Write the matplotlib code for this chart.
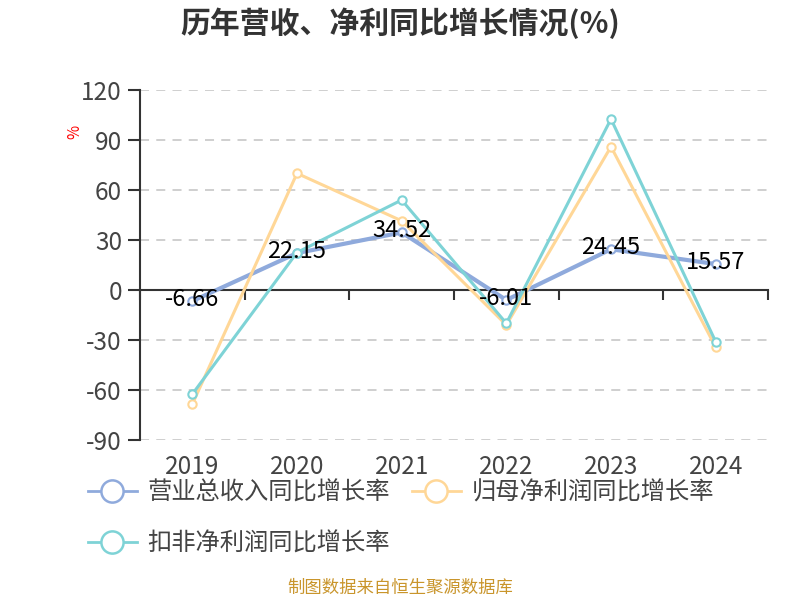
import matplotlib
matplotlib.use("Agg")
import matplotlib.pyplot as plt
from matplotlib.lines import Line2D
import matplotlib.transforms as mtransforms

plt.rcParams['font.family'] = ['Noto Sans CJK SC', 'DejaVu Sans']

years = ['2019', '2020', '2021', '2022', '2023', '2024']
revenue_growth = [-6.66, 22.15, 34.52, -6.01, 24.45, 15.57]
netprofit_growth = [-68.5, 70.0, 41.5, -21.0, 86.0, -34.3]
deducted_growth = [-62.5, 22.5, 54.0, -20.0, 102.6, -31.0]
series_names = ['营业总收入同比增长率', '归母净利润同比增长率', '扣非净利润同比增长率']
colors = ['#8FAADC', '#FFD797', '#7ED3D6']
yticks = [-90, -60, -30, 0, 30, 60, 90, 120]

fig = plt.figure(figsize=(8, 6), dpi=100)
ax = fig.add_axes([140/800, 1-440/600, 628/800, 350/600])

x = list(range(len(years)))
series = [revenue_growth, netprofit_growth, deducted_growth]
lws = [3.0, 2.2, 2.2]
for i, (vals, c) in enumerate(zip(series, colors)):
    ax.plot(x, vals, color=c, lw=lws[i], marker='o', markersize=6,
            markerfacecolor='white', markeredgecolor=c, markeredgewidth=1.5,
            zorder=3+i, solid_joinstyle='round')

offset = mtransforms.offset_copy(ax.transData, fig=fig, x=0, y=2, units='dots')
for xi, v in zip(x, revenue_growth):
    ax.text(xi, v, f'{v:.2f}', transform=offset, ha='center', va='center',
            fontsize=17, color='#000000', zorder=10)

ax.set_xlim(-0.5, 5.5)
ax.set_ylim(-90, 120)
ax.set_yticks(yticks)
ax.set_yticklabels([str(t) for t in yticks], fontsize=17.5, color='#444444')
for t in yticks:
    if t != 0:
        ax.axhline(t, color='#cccccc', lw=1.3, linestyle=(0, (5, 4)), zorder=1)

for s in ['top', 'right']:
    ax.spines[s].set_visible(False)
ax.spines['left'].set_color('#333333')
ax.spines['left'].set_linewidth(1.5)
ax.spines['bottom'].set_position(('data', 0))
ax.spines['bottom'].set_color('#333333')
ax.spines['bottom'].set_linewidth(1.5)
ax.tick_params(axis='y', length=9, width=1.5, color='#333333', pad=4)
ax.set_xticks([b - 0.5 for b in range(len(years) + 1)])
ax.set_xticklabels([])
ax.tick_params(axis='x', length=7, width=1.5, color='#333333', direction='out')

for xi, lab in zip(x, years):
    ax.text(xi, -27/350, lab, transform=ax.get_xaxis_transform(), ha='center', va='center',
            fontsize=17.5, color='#444444')

fig.text(75/800, 1-132/600, '%', rotation=90, color='red', fontsize=11, ha='center', va='center')
fig.text(0.5, 1-23/600, '历年营收、净利同比增长情况(%)', ha='center', va='center',
         fontsize=21.5, fontweight='bold', color='#333333')
fig.text(0.5, 1-588/600, '制图数据来自恒生聚源数据库', ha='center', va='center',
         fontsize=12.5, color='#C9952B')

handles = []
for c, name in zip(colors, series_names):
    handles.append(Line2D([0], [0], color=c, lw=2, marker='o', markersize=16,
                          markerfacecolor='white', markeredgecolor=c, markeredgewidth=1.8,
                          label=name))
order = [0, 2, 1]
leg = fig.legend([handles[i] for i in order], [series_names[i] for i in order],
                 ncol=2, loc='upper left', bbox_to_anchor=(88/800, 1-480/600),
                 frameon=False, fontsize=17.5, handlelength=2.0, handletextpad=0.45,
                 columnspacing=0.9, labelspacing=1.0, borderpad=0, borderaxespad=0)
for t in leg.get_texts():
    t.set_color('#444444')

fig.savefig('out.png', dpi=100)
